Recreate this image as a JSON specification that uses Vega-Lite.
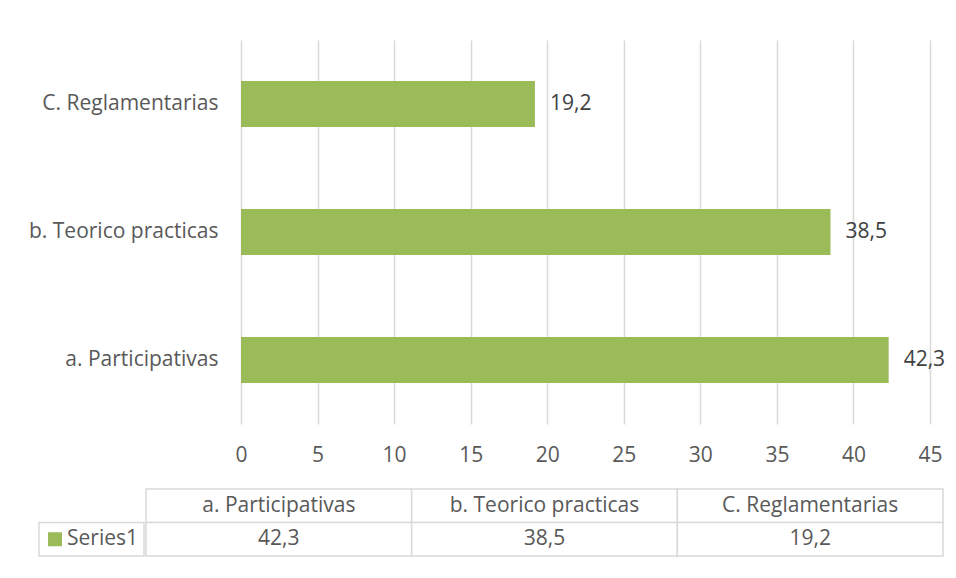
{
  "$schema": "https://vega.github.io/schema/vega-lite/v6.json",
  "padding": {"left": 27, "top": 40, "right": 5, "bottom": 10},
  "background": "white",
  "config": {
    "locale": {"number": {"decimal": ",", "thousands": ".", "grouping": [3], "currency": ["", " €"]}},
    "view": {"stroke": null},
    "font": "Open Sans",
    "axis": {"labelFont": "Open Sans", "labelFontSize": 21, "labelColor": "#595959"}
  },
  "datasets": {
    "ratings": [
      {"category": "a. Participativas", "value": 42.3},
      {"category": "b. Teorico practicas", "value": 38.5},
      {"category": "C. Reglamentarias", "value": 19.2}
    ],
    "series": [{"series": "Series1"}],
    "blank": [{"note": ""}]
  },
  "spacing": 23,
  "vconcat": [
    {
      "spacing": 0,
      "hconcat": [
        {
          "width": 1,
          "height": 384,
          "data": {"name": "blank"},
          "mark": {"type": "text"},
          "encoding": {"text": {"field": "note"}}
        },
        {
          "width": 689,
          "height": 384,
          "data": {"name": "ratings"},
          "encoding": {
            "y": {
              "field": "category", "type": "nominal",
              "sort": ["C. Reglamentarias", "b. Teorico practicas", "a. Participativas"],
              "scale": {"paddingInner": 0.64, "paddingOuter": 0.32},
              "axis": {"title": null, "ticks": false, "domain": false, "labelPadding": 23, "labelLimit": 400, "grid": false}
            },
            "x": {
              "field": "value", "type": "quantitative",
              "scale": {"domain": [0, 45], "nice": false},
              "axis": {"title": null, "values": [0, 5, 10, 15, 20, 25, 30, 35, 40, 45], "ticks": false, "domain": false, "grid": true, "gridColor": "#d9d9d9", "gridWidth": 1.5, "labelPadding": 20, "labelFlush": false, "format": "d"}
            }
          },
          "layer": [
            {"mark": {"type": "bar", "color": "#9bbb59"}},
            {"mark": {"type": "text", "align": "left", "dx": 15, "fontSize": 21, "color": "#404040"}, "encoding": {"text": {"field": "value", "type": "quantitative", "format": ".1f"}}}
          ]
        }
      ]
    },
    {
      "spacing": 0,
      "hconcat": [
        {
          "width": 117,
          "height": 67,
          "data": {"name": "series"},
          "encoding": {
            "x": {"field": "series", "type": "nominal", "scale": {"paddingInner": 0, "paddingOuter": 0.0571, "align": 1}, "axis": null},
            "y": {"datum": "data", "type": "nominal", "scale": {"domain": ["header", "data"], "paddingInner": 0, "paddingOuter": 0}, "axis": null}
          },
          "layer": [
            {"mark": {"type": "rect", "fill": "white", "stroke": "#d9d9d9", "strokeWidth": 1.5}},
            {"mark": {"type": "point", "shape": "square", "filled": true, "color": "#9bbb59", "size": 196, "opacity": 1, "xOffset": 16}, "encoding": {"x": {"field": "series", "type": "nominal", "bandPosition": 0}}},
            {"mark": {"type": "text", "align": "left", "dx": 28, "fontSize": 21, "color": "#595959"}, "encoding": {"x": {"field": "series", "type": "nominal", "bandPosition": 0}, "text": {"field": "series"}}}
          ]
        },
        {
          "width": 797,
          "height": 67,
          "data": {"name": "ratings"},
          "encoding": {
            "x": {"field": "category", "type": "nominal", "sort": ["a. Participativas", "b. Teorico practicas", "C. Reglamentarias"], "scale": {"paddingInner": 0, "paddingOuter": 0}, "axis": null}
          },
          "layer": [
            {"mark": {"type": "rect", "fill": "white", "stroke": "#d9d9d9", "strokeWidth": 1.5}, "encoding": {"y": {"datum": "header", "type": "nominal", "scale": {"domain": ["header", "data"], "paddingInner": 0, "paddingOuter": 0}, "axis": null}}},
            {"mark": {"type": "rect", "fill": "white", "stroke": "#d9d9d9", "strokeWidth": 1.5}, "encoding": {"y": {"datum": "data", "type": "nominal"}}},
            {"mark": {"type": "text", "fontSize": 21, "color": "#595959"}, "encoding": {"y": {"datum": "header", "type": "nominal"}, "text": {"field": "category"}}},
            {"mark": {"type": "text", "fontSize": 21, "color": "#595959"}, "encoding": {"y": {"datum": "data", "type": "nominal"}, "text": {"field": "value", "type": "quantitative", "format": ".1f"}}}
          ]
        }
      ]
    }
  ]
}
